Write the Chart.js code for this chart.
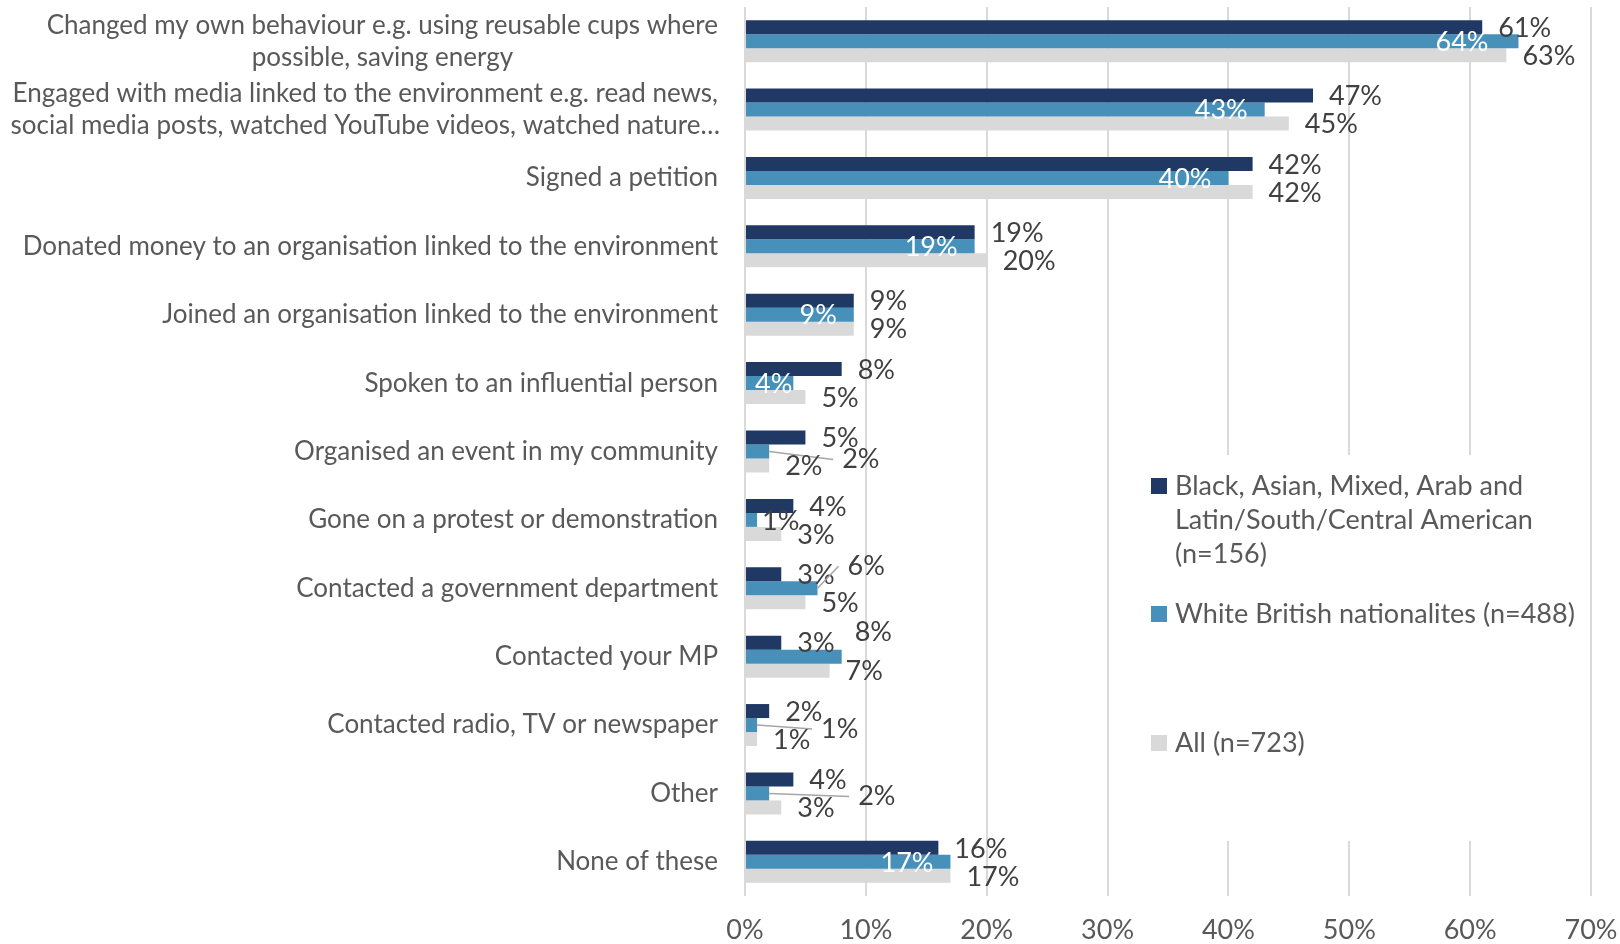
<!DOCTYPE html>
<html>
<head>
<meta charset="utf-8">
<script src="https://cdn.jsdelivr.net/npm/chart.js@4"></script>
<style>
  body { margin: 0; background: #fff; overflow: hidden; }
  #wrap { width: 1620px; height: 944px; }
</style>
</head>
<body>
<div id="wrap"><canvas id="myChart"></canvas></div>
<script>
// categorias (de arriba hacia abajo)
const categories = [
    ["Changed my own behaviour e.g. using reusable cups where", "possible, saving energy"],
    ["Engaged with media linked to the environment e.g. read news,", "social media posts, watched YouTube videos, watched nature…"],
    "Signed a petition",
    "Donated money to an organisation linked to the environment",
    "Joined an organisation linked to the environment",
    "Spoken to an influential person",
    "Organised an event in my community",
    "Gone on a protest or demonstration",
    "Contacted a government department",
    "Contacted your MP",
    "Contacted radio, TV or newspaper",
    "Other",
    "None of these"
];

const bameValues = [61, 47, 42, 19, 9, 8, 5, 4, 3, 3, 2, 4, 16];
const whiteBritishValues = [64, 43, 40, 19, 9, 4, 2, 1, 6, 8, 1, 2, 17];
const allValues = [63, 45, 42, 20, 9, 5, 2, 3, 5, 7, 1, 3, 17];

const seriesNames = [
    ["Black, Asian, Mixed, Arab and", "Latin/South/Central American", "(n=156)"],
    ["White British nationalites (n=488)"],
    ["All (n=723)"]
];

const xTickValues = [0, 10, 20, 30, 40, 50, 60, 70];

const colors = ['#1F3864', '#4690BA', '#D9D9D9'];
const FONT = 'Lato';

// ajustes manuales de las etiquetas azules (como en el original de Excel)
const blueLabelAdjust = {
    0: { inside: true, gap: 30 },
    5: { inside: true, gap: 1 },
    6: { dx: 73, dy: 7, leader: true },
    7: { dx: 5, dy: 0 },
    8: { dx: 30, dy: -23, leader: true },
    9: { dx: 13, dy: -25 },
    10: { dx: 64, dy: 3, leader: true },
    11: { dx: 89, dy: 2, leader: true }
};

// etiquetas de categoria (Excel centra las de varias lineas)
const categoryLabels = {
    id: 'categoryLabels',
    afterDraw(chart) {
        const ctx = chart.ctx;
        const y = chart.scales.y;
        const right = 718;
        const lineH = 32;
        ctx.save();
        ctx.font = `26px ${FONT}`;
        ctx.fillStyle = '#595959';
        ctx.textBaseline = 'middle';
        categories.forEach((lab, i) => {
            const cy = y.getPixelForValue(i);
            if (Array.isArray(lab)) {
                const center = right - ctx.measureText(lab[0]).width / 2;
                ctx.textAlign = 'center';
                lab.forEach((line, k) => {
                    ctx.fillText(line, center, cy + (k - (lab.length - 1) / 2) * lineH);
                });
            } else {
                ctx.textAlign = 'right';
                ctx.fillText(lab, right, cy);
            }
        });
        ctx.restore();
    }
};

// etiquetas de datos
const barLabels = {
    id: 'barLabels',
    afterDatasetsDraw(chart) {
        const ctx = chart.ctx;
        ctx.save();
        ctx.font = `27px ${FONT}`;
        ctx.textBaseline = 'middle';
        chart.data.datasets.forEach((ds, di) => {
            const meta = chart.getDatasetMeta(di);
            meta.data.forEach((bar, i) => {
                const text = ds.data[i] + '%';
                let x, yy = bar.y + 1;
                ctx.fillStyle = '#404040';
                ctx.textAlign = 'left';
                if (di === 1) {
                    const adj = blueLabelAdjust[i] || { inside: true, gap: 17 };
                    if (adj.inside) {
                        ctx.fillStyle = '#ffffff';
                        ctx.textAlign = 'right';
                        x = bar.x - adj.gap;
                    } else {
                        x = bar.x + adj.dx;
                        yy = bar.y + adj.dy + 1;
                        if (adj.leader) {
                            ctx.strokeStyle = '#A6A6A6';
                            ctx.lineWidth = 1.5;
                            ctx.beginPath();
                            ctx.moveTo(bar.x, bar.y);
                            ctx.lineTo(x - 9, yy);
                            ctx.stroke();
                        }
                    }
                } else {
                    x = bar.x + 16;
                }
                ctx.fillText(text, x, yy);
            });
        });
        ctx.restore();
    }
};

// leyenda con fondo blanco sobre la cuadricula
const boxLegend = {
    id: 'boxLegend',
    beforeDatasetsDraw(chart) {
        const ctx = chart.ctx;
        ctx.save();
        ctx.fillStyle = '#ffffff';
        ctx.fillRect(1140, 455, 440, 386);
        const tops = [486, 614, 743];
        ctx.font = `27px ${FONT}`;
        ctx.textBaseline = 'middle';
        ctx.textAlign = 'left';
        seriesNames.forEach((lines, k) => {
            const y0 = tops[k];
            ctx.fillStyle = colors[k];
            ctx.fillRect(1151, y0 - 8, 16, 16);
            ctx.fillStyle = '#595959';
            lines.forEach((line, j) => {
                ctx.fillText(line, 1175, y0 + j * 34.3);
            });
        });
        ctx.restore();
    }
};

const ctx = document.getElementById('myChart').getContext('2d');
const myChart = new Chart(ctx, {
    type: 'bar',
    data: {
        labels: categories,
        datasets: [
            { label: seriesNames[0].join(' '), data: bameValues, backgroundColor: colors[0] },
            { label: seriesNames[1].join(' '), data: whiteBritishValues, backgroundColor: colors[1] },
            { label: seriesNames[2].join(' '), data: allValues, backgroundColor: colors[2] }
        ]
    },
    options: {
        indexAxis: 'y',
        responsive: true,
        maintainAspectRatio: false,
        animation: false,
        categoryPercentage: 0.614,
        barPercentage: 1,
        layout: { padding: { left: 745, right: 29, top: 7, bottom: 0 } },
        plugins: {
            legend: { display: false },
            tooltip: { enabled: false }
        },
        scales: {
            x: {
                min: 0,
                max: 70,
                afterBuildTicks: (axis) => { axis.ticks = xTickValues.map(v => ({ value: v })); },
                afterFit: (axis) => {
                    axis.height = 48;
                    axis.paddingLeft = 0;
                    axis.paddingRight = 0;
                },
                ticks: {
                    callback: v => v + '%',
                    padding: 18,
                    maxRotation: 0,
                    color: '#595959',
                    font: { family: FONT, size: 27 }
                },
                grid: { color: '#D9D9D9', lineWidth: 2, drawTicks: false },
                border: { display: false }
            },
            y: { display: false }
        }
    },
    plugins: [boxLegend, barLabels, categoryLabels]
});
</script>
</body>
</html>
